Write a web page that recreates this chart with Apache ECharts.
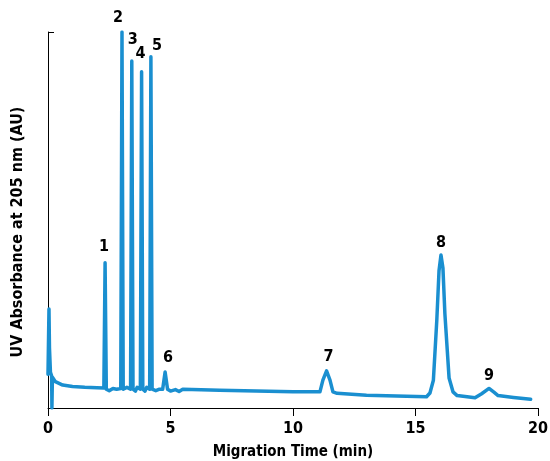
<!DOCTYPE html>
<html>
<head>
<meta charset="utf-8">
<script src="https://cdn.jsdelivr.net/npm/echarts@6/dist/echarts.min.js"></script>
<style>
html,body{margin:0;padding:0;background:#fff;}
#chart{width:550px;height:461px;}
</style>
</head>
<body>
<div id="chart"></div>
<script>
// Electropherogram trace: [migration time (min), absorbance (relative AU)]
var trace = [
  [0.00, 0.090], [0.04, 0.263], [0.06, 0.160], [0.10, 0.095], [0.15, 0.085],
  [0.16, 0.000], [0.18, 0.082], [0.30, 0.070], [0.60, 0.061], [1.00, 0.057],
  [1.50, 0.055], [2.00, 0.054], [2.28, 0.053], [2.33, 0.386], [2.38, 0.050],
  [2.50, 0.046], [2.65, 0.052], [2.80, 0.050], [2.97, 0.052], [3.02, 1.000],
  [3.07, 0.050], [3.15, 0.045], [3.22, 0.055], [3.37, 0.050], [3.42, 0.923],
  [3.47, 0.050], [3.57, 0.045], [3.64, 0.055], [3.77, 0.050], [3.82, 0.894],
  [3.87, 0.050], [3.96, 0.045], [4.03, 0.055], [4.15, 0.050], [4.20, 0.934],
  [4.25, 0.050], [4.40, 0.046], [4.55, 0.050], [4.68, 0.050], [4.78, 0.096],
  [4.88, 0.050], [5.00, 0.045], [5.20, 0.049], [5.35, 0.044], [5.50, 0.050],
  [7.00, 0.047], [10.00, 0.043], [11.10, 0.043], [11.22, 0.074], [11.37, 0.099],
  [11.51, 0.074], [11.63, 0.043], [11.80, 0.039], [13.00, 0.034], [15.45, 0.030],
  [15.59, 0.040], [15.73, 0.074], [15.87, 0.234], [15.96, 0.365], [16.04, 0.407],
  [16.12, 0.372], [16.20, 0.250], [16.37, 0.080], [16.53, 0.043], [16.70, 0.033],
  [17.43, 0.027], [17.70, 0.038], [18.00, 0.052], [18.20, 0.042], [18.37, 0.033],
  [19.00, 0.028], [19.70, 0.023]
];

// Peak numbers and their apex positions
var peakNames = ['1', '2', '3', '4', '5', '6', '7', '8', '9'];
var peakTimes = [2.33, 3.02, 3.42, 3.82, 4.20, 4.78, 11.37, 16.04, 18.00];
var peakHeights = [0.386, 1.000, 0.923, 0.894, 0.934, 0.096, 0.099, 0.407, 0.052];

var xTicks = [0, 5, 10, 15, 20];

// label placement relative to apex (style)
var labelOffsets = [[-1, -16], [-4, -14], [1, -21], [-1, -18], [6, -11], [3, -14], [2, -14], [0, -12], [0, -13]];

var FONT = '"DejaVu Sans Condensed", "Liberation Sans Narrow", "Liberation Sans", sans-serif';

var peakData = peakNames.map(function (n, i) {
  return {
    value: [peakTimes[i], peakHeights[i]],
    name: n,
    label: { offset: labelOffsets[i] }
  };
});

var chart = echarts.init(document.getElementById('chart'), null, { renderer: 'canvas' });
chart.setOption({
  animation: false,
  grid: { left: 48, right: 12, top: 32, bottom: 53, containLabel: false, outerBoundsMode: 'none' },
  xAxis: {
    type: 'value',
    min: xTicks[0],
    max: xTicks[xTicks.length - 1],
    interval: 5,
    name: 'Migration Time (min)',
    nameLocation: 'middle',
    nameGap: 37,
    nameTextStyle: { fontFamily: FONT, fontWeight: 'bold', fontSize: 15, color: '#000' },
    axisLine: { onZero: false, lineStyle: { color: '#000', width: 1 } },
    axisTick: { show: true, inside: false, length: 8, lineStyle: { color: '#000' } },
    axisLabel: { margin: 21, fontFamily: FONT, fontWeight: 'bold', fontSize: 16, color: '#000', verticalAlign: 'middle' },
    splitLine: { show: false }
  },
  yAxis: {
    type: 'value',
    min: 0,
    max: 1,
    interval: 1,
    name: 'UV Absorbance at 205 nm (AU)',
    nameLocation: 'middle',
    nameGap: 22,
    nameTextStyle: { fontFamily: FONT, fontWeight: 'bold', fontSize: 16, color: '#000', padding: [0, 24, 0, 0] },
    axisLine: { show: true, lineStyle: { color: '#000', width: 1 } },
    axisTick: { show: true, inside: true, length: 6, lineStyle: { color: '#000' } },
    axisLabel: { show: false },
    splitLine: { show: false }
  },
  series: [
    {
      type: 'line',
      data: trace,
      showSymbol: false,
      symbol: 'none',
      smooth: false,
      lineStyle: { color: '#1a8fd0', width: 3.5, join: 'round', cap: 'round' },
      z: 2
    },
    {
      type: 'scatter',
      data: peakData,
      symbolSize: 0,
      itemStyle: { opacity: 1 },
      label: {
        show: true,
        position: 'inside',
        formatter: function (p) { return p.name; },
        fontFamily: FONT,
        fontWeight: 'bold',
        fontSize: 16,
        color: '#000',
        textBorderWidth: 0
      },
      z: 3
    }
  ]
});
</script>
</body>
</html>
